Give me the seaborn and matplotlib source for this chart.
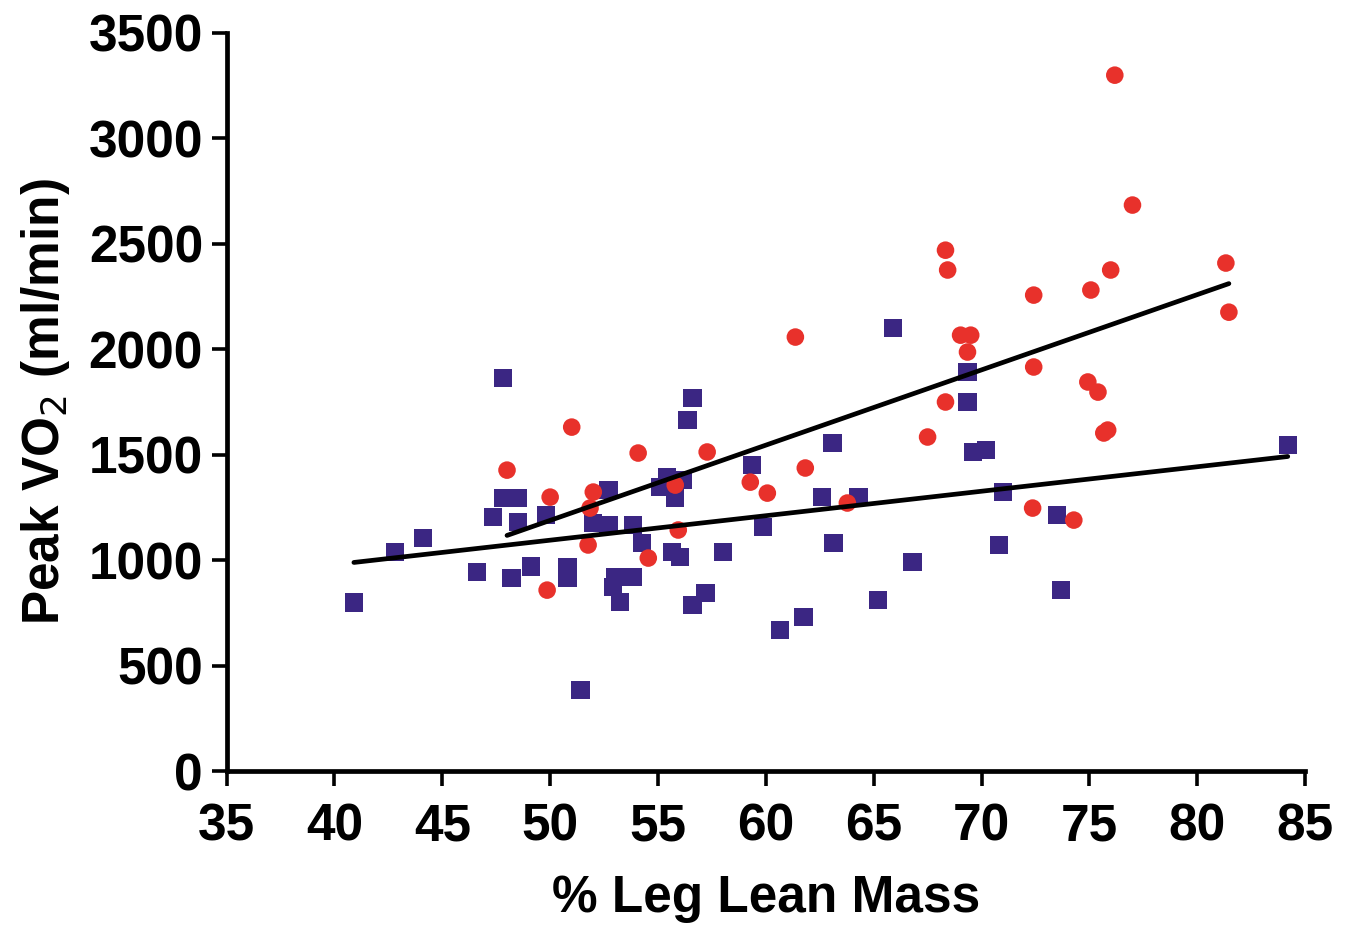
import matplotlib
matplotlib.use("Agg")
import matplotlib.pyplot as plt
import seaborn as sns
import pandas as pd

# % leg lean mass vs peak VO2, two groups
blue_x = [40.9, 42.8, 44.1, 46.6, 47.35, 47.8, 48.5, 48.5, 47.8, 48.2,
          49.1, 49.8, 50.8, 50.8, 51.4, 52.0, 52.7, 52.7, 53.85, 54.27,
          53.0, 53.25, 52.9, 53.85, 55.1, 55.43, 56.17, 55.8, 56.36, 56.6,
          55.66, 56.03, 56.6, 57.2, 58.0, 59.37, 59.88, 60.67, 61.74, 63.09,
          63.13, 62.6, 64.3, 65.2, 65.9, 66.8, 69.35, 69.35, 69.6, 70.2,
          71.0, 70.8, 73.5, 73.7, 84.2]
blue_y = [800, 1040, 1105, 945, 1205, 1295, 1295, 1180, 1863, 915,
          970, 1215, 965, 915, 384, 1176, 1332, 1166, 1166, 1081,
          920, 801, 872, 920, 1347, 1394, 1380, 1294, 1664, 1769,
          1038, 1015, 787, 844, 1038, 1451, 1157, 669, 730, 1555,
          1081, 1299, 1299, 811, 2100, 991, 1892, 1750, 1513, 1522,
          1323, 1072, 1214, 858, 1546]

red_x = [48.0, 49.86, 50.0, 51.0, 51.76, 52.0, 51.85, 54.08, 54.55, 55.94,
         55.8, 57.28, 59.28, 60.07, 61.37, 61.83, 63.78, 67.5, 68.33, 68.33,
         68.43, 69.03, 69.5, 69.35, 72.42, 72.42, 72.37, 74.28, 75.07, 74.93,
         75.4, 75.67, 75.85, 75.99, 76.18, 77.0, 81.33, 81.47]
red_y = [1427, 858, 1299, 1631, 1072, 1323, 1247, 1508, 1010, 1143,
         1356, 1513, 1370, 1318, 2058, 1437, 1271, 1584, 1750, 2470,
         2376, 2067, 2067, 1987, 2257, 1916, 1247, 1190, 2281, 1845,
         1797, 1603, 1617, 2376, 3300, 2684, 2409, 2176]

x_ticks = list(range(35, 90, 5))
y_ticks = list(range(0, 4000, 500))

blue_df = pd.DataFrame({"x": blue_x, "y": blue_y})
red_df = pd.DataFrame({"x": red_x, "y": red_y})

sns.set_style("ticks")
plt.rcParams['font.family'] = ['Liberation Sans', 'DejaVu Sans']
plt.rcParams['text.color'] = 'black'
plt.rcParams['axes.labelcolor'] = 'black'
plt.rcParams['xtick.color'] = 'black'
plt.rcParams['ytick.color'] = 'black'

fig = plt.figure(figsize=(13.49, 9.32), dpi=100)
ax = fig.add_axes([0.168, 0.1727, 0.7994, 0.7919])

sns.scatterplot(data=blue_df, x="x", y="y", marker="s", s=175, color="#3b2683",
                edgecolor="none", ax=ax, zorder=2)
sns.scatterplot(data=red_df, x="x", y="y", marker="o", s=160, color="#e8312b",
                edgecolor="none", ax=ax, zorder=2)

sns.regplot(data=blue_df, x="x", y="y", scatter=False, ci=None, truncate=True,
            color="black", line_kws={"lw": 3.4, "zorder": 3}, ax=ax)
sns.regplot(data=red_df, x="x", y="y", scatter=False, ci=None, truncate=True,
            color="black", line_kws={"lw": 3.4, "zorder": 3}, ax=ax)

ax.set_xlim(35, 85)
ax.set_ylim(0, 3500)
ax.set_xticks(x_ticks)
ax.set_yticks(y_ticks)
ax.set_xticklabels([str(t) for t in x_ticks], fontsize=37, fontweight="bold")
ax.set_yticklabels([str(t) for t in y_ticks], fontsize=37, fontweight="bold")

for side in ["top", "right"]:
    ax.spines[side].set_visible(False)
for side in ["left", "bottom"]:
    ax.spines[side].set_linewidth(3.4)
    ax.spines[side].set_color("black")
ax.tick_params(axis="both", direction="out", length=11, width=2.6, color="black")
ax.tick_params(axis="x", pad=12)
ax.tick_params(axis="y", pad=6)

ax.set_xlabel("% Leg Lean Mass", fontsize=37, fontweight="bold", labelpad=16)
ax.set_ylabel("Peak VO$_2$ (ml/min)", fontsize=37, fontweight="bold", labelpad=12)

fig.savefig("out.png", dpi=100)
